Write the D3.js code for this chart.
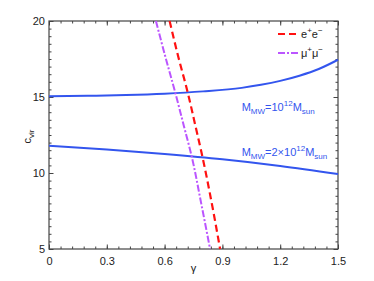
<!DOCTYPE html>
<html>
<head>
<meta charset="utf-8">
<script src="https://cdn.jsdelivr.net/npm/d3@7"></script>
<style>
  body { margin: 0; background: #fff; }
  text { font-family: "Liberation Sans", Arial, sans-serif; }
</style>
</head>
<body>
<div id="chart"></div>
<script>
// curves: [gamma, c_vir]
const mw1 = [[0, 15.05], [0.2, 15.08], [0.4, 15.13], [0.6, 15.22], [0.8, 15.37], [1.0, 15.6],
  [1.1, 15.8], [1.2, 16.06], [1.3, 16.4], [1.4, 16.84], [1.5, 17.45]];
const mw2 = [[0, 11.8], [0.3, 11.55], [0.6, 11.25], [0.9, 10.9], [1.2, 10.46], [1.5, 9.93]];
const ee = [[0.626, 20], [0.672, 17.6], [0.719, 15.35], [0.76, 13.1], [0.798, 10.97], [0.845, 8], [0.888, 5]];
const mumu = [[0.555, 20], [0.605, 17.6], [0.655, 15.3], [0.7, 13.1], [0.741, 11.07], [0.79, 8], [0.836, 5]];
const xTicks = [0, 0.3, 0.6, 0.9, 1.2, 1.5];
const yTicks = [5, 10, 15, 20];

const W = 374, H = 281;
const margin = { top: 21, right: 36, bottom: 32, left: 49 };
const width = W - margin.left - margin.right;
const height = H - margin.top - margin.bottom;

const svg = d3.select("#chart").append("svg")
  .attr("width", W).attr("height", H);
const g = svg.append("g").attr("transform", `translate(${margin.left},${margin.top})`);

const x = d3.scaleLinear().domain([0, 1.5]).range([0, width]);
const y = d3.scaleLinear().domain([5, 20]).range([height, 0]);

const axisColor = "#444";
// minor ticks
const xMinor = d3.range(0, 1.5001, 0.06);
const yMinor = d3.range(5, 20.001, 0.5);

function tickAxis(axis, sel) {
  sel.call(axis);
  sel.select(".domain").remove();
  sel.selectAll("line").attr("stroke", axisColor);
}

g.append("g").call(s => tickAxis(d3.axisBottom(x).tickValues(xMinor).tickSize(-2.5).tickFormat(""), s))
  .attr("transform", `translate(0,${height})`);
g.append("g").call(s => tickAxis(d3.axisTop(x).tickValues(xMinor).tickSize(-2.5).tickFormat(""), s));
g.append("g").call(s => tickAxis(d3.axisLeft(y).tickValues(yMinor).tickSize(-2.5).tickFormat(""), s));
g.append("g").call(s => tickAxis(d3.axisRight(y).tickValues(yMinor).tickSize(-2.5).tickFormat(""), s))
  .attr("transform", `translate(${width},0)`);

// major ticks with labels
const xa = g.append("g").attr("transform", `translate(0,${height})`)
  .call(d3.axisBottom(x).tickValues(xTicks).tickSize(-4.5).tickPadding(8).tickFormat(d3.format("")));
xa.select(".domain").remove();
xa.selectAll("line").attr("stroke", axisColor);
xa.selectAll("text").attr("font-size", 11).attr("fill", "#222");

const ya = g.append("g")
  .call(d3.axisLeft(y).tickValues(yTicks).tickSize(-4.5).tickPadding(4));
ya.select(".domain").remove();
ya.selectAll("line").attr("stroke", axisColor);
ya.selectAll("text").attr("font-size", 11).attr("fill", "#222");

g.append("g").call(d3.axisTop(x).tickValues(xTicks).tickSize(-4.5).tickFormat(""))
  .call(s => { s.select(".domain").remove(); s.selectAll("line").attr("stroke", axisColor); });
g.append("g").attr("transform", `translate(${width},0)`)
  .call(d3.axisRight(y).tickValues(yTicks).tickSize(-4.5).tickFormat(""))
  .call(s => { s.select(".domain").remove(); s.selectAll("line").attr("stroke", axisColor); });

// box
g.append("rect").attr("width", width).attr("height", height)
  .attr("fill", "none").attr("stroke", axisColor).attr("stroke-width", 1.2);

const line = d3.line().x(d => x(d[0])).y(d => y(d[1])).curve(d3.curveMonotoneX);
const lineV = d3.line().x(d => x(d[0])).y(d => y(d[1])).curve(d3.curveMonotoneY);

const blue = "#3355ee";
g.append("path").datum(mw1).attr("d", line)
  .attr("fill", "none").attr("stroke", blue).attr("stroke-width", 2);
g.append("path").datum(mw2).attr("d", line)
  .attr("fill", "none").attr("stroke", blue).attr("stroke-width", 2);

const purple = "#bb55ff";
g.append("path").datum(mumu).attr("d", lineV)
  .attr("fill", "none").attr("stroke", purple).attr("stroke-width", 2)
  .attr("stroke-dasharray", "7,2,2,2");
const red = "#ff1111";
g.append("path").datum(ee).attr("d", lineV)
  .attr("fill", "none").attr("stroke", red).attr("stroke-width", 2.2)
  .attr("stroke-dasharray", "7,4");

// legend
const legend = g.append("g").attr("transform", `translate(${width - 60},13)`);
[[red, "7,4", "e", "+", "e", "−"], [purple, "7,2,2,2", "μ", "+", "μ", "−"]].forEach((d, i) => {
  legend.append("line").attr("x1", 0).attr("x2", 20).attr("y1", i * 19).attr("y2", i * 19)
    .attr("stroke", d[0]).attr("stroke-width", 2).attr("stroke-dasharray", d[1]);
  const t = legend.append("text").attr("x", 23).attr("y", i * 19 + 4)
    .attr("font-size", 11).attr("fill", "#222");
  t.append("tspan").text(d[2]);
  t.append("tspan").attr("dy", -5).attr("font-size", 8).text(d[3]);
  t.append("tspan").attr("dy", 5).text(d[4]);
  t.append("tspan").attr("dy", -5).attr("font-size", 8).text(d[5]);
});

// curve annotations
function massLabel(px, py, pre) {
  const t = g.append("text").attr("x", px).attr("y", py)
    .attr("font-size", 11).attr("fill", blue);
  t.append("tspan").text("M");
  t.append("tspan").attr("dy", 3).attr("font-size", 8).text("MW");
  t.append("tspan").attr("dy", -3).text(pre + "10");
  t.append("tspan").attr("dy", -5).attr("font-size", 8).text("12");
  t.append("tspan").attr("dy", 5).text("M");
  t.append("tspan").attr("dy", 3).attr("font-size", 8).text("sun");
}
massLabel(x(1.0), y(14.1), "=");
massLabel(x(1.0), y(11.1), "=2×");

// axis labels
const yl = svg.append("text")
  .attr("transform", `translate(31,${margin.top + y(12.4)}) rotate(-90)`)
  .attr("text-anchor", "middle").attr("font-size", 11).attr("fill", "#222");
yl.append("tspan").text("c");
yl.append("tspan").attr("dy", 3).attr("font-size", 8).text("vir");

svg.append("text").attr("x", margin.left + x(0.75)).attr("y", 272)
  .attr("text-anchor", "middle").attr("font-size", 11).attr("fill", "#222").text("γ");
</script>
</body>
</html>
